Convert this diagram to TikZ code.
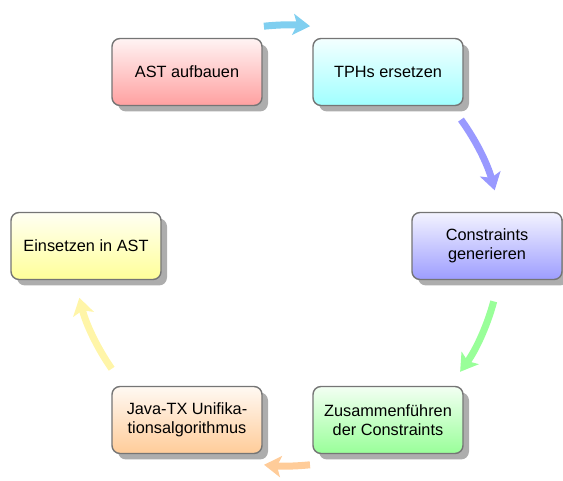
\documentclass[tikz,border=0pt]{standalone}
\usepackage{fontspec}
\setmainfont{Liberation Sans}
\usetikzlibrary{arrows.meta,shadows,calc}
\definecolor{cRed}{HTML}{FFA0A0}
\definecolor{cCyan}{HTML}{A0FFFF}
\definecolor{cBlue}{HTML}{9D9DFF}
\definecolor{cGreen}{HTML}{99FF99}
\definecolor{cOrange}{HTML}{FFCC99}
\definecolor{cYellow}{HTML}{FFFF99}
\definecolor{aCyan}{HTML}{80CFF0}
\definecolor{aBlue}{HTML}{9999FF}
\definecolor{aGreen}{HTML}{99FF99}
\definecolor{aOrange}{HTML}{FFCC99}
\definecolor{aYellow}{HTML}{FFF5A8}
\definecolor{border}{HTML}{757575}
\tikzset{
  stepbox/.style={draw=border, line width=1.4pt, rounded corners=8pt,
    minimum width=150pt, minimum height=67pt, align=center,
    font=\fontsize{16.3}{19}\selectfont, inner sep=2pt,
    top color=#1!12, bottom color=#1,
    drop shadow={shadow xshift=6pt, shadow yshift=-6pt, fill=black!32, opacity=1}},
  arr/.style={line width=7pt, draw=#1,
    -{Stealth[length=17pt,width=21pt,inset=4pt]}}
}
\begin{document}
\begin{tikzpicture}[x=1pt,y=1pt]
\useasboundingbox (0,0) rectangle (563,481);
\coordinate (C) at (287,235);
\node[stepbox=cRed]    (n1) at (187,409) {AST aufbauen};
\node[stepbox=cCyan]   (n2) at (388,409) {TPHs ersetzen};
\node[stepbox=cBlue]   (n3) at (487,235) {Constraints\\generieren};
\node[stepbox=cGreen]  (n4) at (388,61)  {Zusammenführen\\der Constraints};
\node[stepbox=cOrange] (n5) at (187,61)  {Java-TX Unifika-\\tionsalgorithmus};
\node[stepbox=cYellow] (n6) at (86,235)  {Einsetzen in AST};
\coordinate (a1) at ($(C)+(96:221)$);
\coordinate (a2) at ($(C)+(36:215)$);
\coordinate (a3) at ($(C)+(-15:214)$);
\coordinate (a4) at ($(C)+(-84:220)$);
\coordinate (a5) at ($(C)+(-145:214)$);
\draw[arr=aCyan]   (a1) arc[start angle=96,  end angle=84,   radius=221];
\draw[arr=aBlue]   (a2) arc[start angle=36,  end angle=15,   radius=215];
\draw[arr=aGreen]  (a3) arc[start angle=-15, end angle=-36,  radius=214];
\draw[arr=aOrange] (a4) arc[start angle=-84, end angle=-96,  radius=220];
\draw[arr=aYellow] (a5) arc[start angle=-145,end angle=-166, radius=214];
\end{tikzpicture}
\end{document}
